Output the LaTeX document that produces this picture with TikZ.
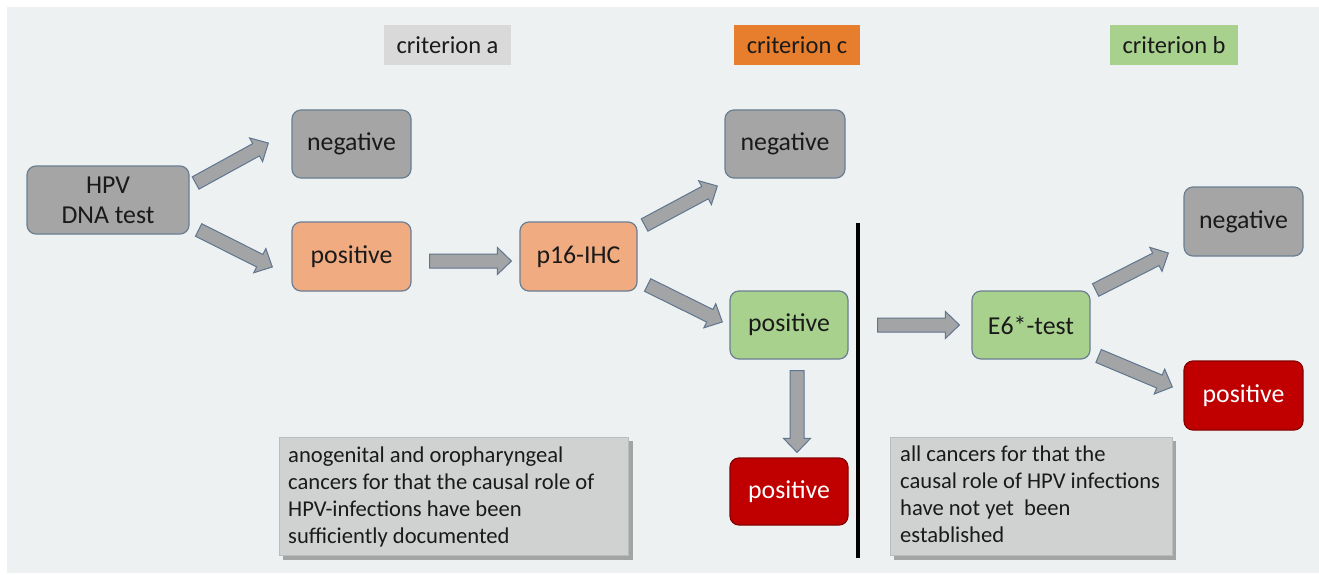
\documentclass[tikz,border=0pt]{standalone}
\usepackage{fontspec}
\setmainfont{Carlito}
\usetikzlibrary{calc}
\definecolor{bgc}{HTML}{EEF1F1}
\definecolor{critA}{HTML}{D9D9D9}
\definecolor{critC}{HTML}{E67E2E}
\definecolor{critB}{HTML}{A9D18E}
\definecolor{nodegray}{HTML}{A5A5A5}
\definecolor{nodeorange}{HTML}{F1AB80}
\definecolor{nodegreen}{HTML}{A9D18E}
\definecolor{nodered}{HTML}{C00000}
\definecolor{nodeline}{HTML}{6A7E94}
\definecolor{arrowfill}{HTML}{A2A4A6}
\definecolor{arrowline}{HTML}{5F7590}
\definecolor{boxfill}{HTML}{D0D1D1}
\definecolor{boxshadow}{HTML}{A3A4A4}
\definecolor{textc}{HTML}{1A1A1A}
\tikzset{
  flownode/.style={draw=nodeline, line width=1.2pt, rounded corners=9pt,
    minimum width=119pt, minimum height=68pt, inner sep=0pt, align=center,
    text=textc, font=\fontsize{25.8}{30}\selectfont},
  graynode/.style={flownode, fill=nodegray},
  orangenode/.style={flownode, fill=nodeorange},
  greennode/.style={flownode, fill=nodegreen},
  rednode/.style={flownode, fill=nodered, draw=nodered!70!black, text=white},
  critlabel/.style={minimum width=127pt, minimum height=40pt, inner sep=0pt,
    text=textc, font=\fontsize{24.5}{29}\selectfont},
  infobox/.style={fill=boxfill, draw=boxfill!90!black, line width=0.6pt,
    minimum height=118pt, inner sep=0pt},
  infotext/.style={anchor=north west, inner sep=0pt, align=left, text=textc,
    font=\fontsize{22.6}{27}\selectfont},
  blockarrow/.style={draw=arrowline, fill=arrowfill, line width=1pt, line join=miter,
    to path={let \p1=(\tikztostart), \p2=(\tikztotarget),
      \n1={atan2(\y2-\y1,\x2-\x1)}, \n2={veclen(\x2-\x1,\y2-\y1)} in
      {[shift={(\p1)}, rotate=\n1]
      (0pt,-7pt) -- ({\n2*1pt-14pt},-7pt) -- ({\n2*1pt-14pt},-13.5pt)
      -- ({\n2*1pt},0pt) -- ({\n2*1pt-14pt},13.5pt) -- ({\n2*1pt-14pt},7pt)
      -- (0pt,7pt) -- cycle}}},
}
\begin{document}
\begin{tikzpicture}[x=1pt,y=-1pt]
\useasboundingbox (0,0) rectangle (1319,575);
\fill[bgc] (7,7) rectangle (1319,573);

% criterion labels
\node[critlabel, fill=critA] (crita) at (447.5,45) {criterion a};
\node[critlabel, fill=critC, minimum width=126pt] (critc) at (797,45) {criterion c};
\node[critlabel, fill=critB, minimum width=128pt] (critb) at (1174,45) {criterion b};

% flow nodes
\node[graynode, minimum width=162pt] (hpv) at (108,200) {HPV\\DNA test};
\node[graynode] (neg1) at (351.5,144) {negative};
\node[orangenode, minimum height=69pt] (pos1) at (351.5,256.5) {positive};
\node[orangenode, minimum width=117pt, minimum height=69pt] (p16) at (578.5,256.5) {p16-IHC};
\node[graynode, minimum width=120pt] (neg2) at (785,144) {negative};
\node[greennode, minimum width=118pt] (posg) at (789,325) {positive};
\node[rednode, minimum width=118pt, minimum height=67pt] (posr1) at (789,491.5) {positive};
\node[greennode, minimum width=118pt] (e6) at (1031,325) {E6*-test};
\node[graynode, minimum height=69pt] (neg3) at (1243.5,221.5) {negative};
\node[rednode, minimum height=69pt] (posr2) at (1243.5,395.5) {positive};

% info boxes
\fill[boxshadow] (283,441) rectangle (633,560);
\node[infobox, minimum width=349pt] (box1) at (453.5,496) {};
\node[infotext] (txt1) at (288,447) {anogenital and oropharyngeal\\cancers for that the causal role of\\HPV-infections have been\\sufficiently documented};
\fill[boxshadow] (894,441) rectangle (1176,560);
\node[infobox, minimum width=282pt] (box2) at (1031,496) {};
\node[infotext] (txt2) at (900,446) {all cancers for that the\\causal role of HPV infections\\have not yet\ \ been\\established};

% divider
\coordinate (divtop) at (858,223);
\coordinate (divbot) at (858,558);
\draw[line width=4pt, black] (divtop) -- (divbot);

% arrow end points
\coordinate (a1s) at ($(hpv.east)+(6,-17)$);
\coordinate (a1e) at ($(neg1.west)+(-23,-1)$);
\coordinate (a2s) at ($(hpv.east)+(9,30)$);
\coordinate (a2e) at ($(pos1.west)+(-19,10.5)$);
\coordinate (a3s) at ($(pos1.east)+(18,4.5)$);
\coordinate (a3e) at ($(p16.west)+(-8,4.5)$);
\coordinate (a4s) at ($(p16.east)+(7,-31.5)$);
\coordinate (a4e) at ($(neg2.west)+(-7,42)$);
\coordinate (a5s) at ($(p16.east)+(10,28.5)$);
\coordinate (a5e) at ($(posg.west)+(-7,-3)$);
\coordinate (a6s) at ($(posg.east)+(29,0)$);
\coordinate (a6e) at ($(e6.west)+(-12,0)$);
\coordinate (a7s) at ($(posg.south)+(8,11)$);
\coordinate (a7e) at ($(posr1.north)+(8,-5)$);
\coordinate (a8s) at ($(e6.east)+(5,-35)$);
\coordinate (a8e) at ($(neg3.west)+(-15,31.5)$);
\coordinate (a9s) at ($(e6.east)+(8,31)$);
\coordinate (a9e) at ($(posr2.west)+(-11,-8.5)$);

\foreach \s/\e in {a1s/a1e,a2s/a2e,a3s/a3e,a4s/a4e,a5s/a5e,a6s/a6e,a7s/a7e,a8s/a8e,a9s/a9e}
  \draw[blockarrow] (\s) to (\e);
\end{tikzpicture}
\end{document}
